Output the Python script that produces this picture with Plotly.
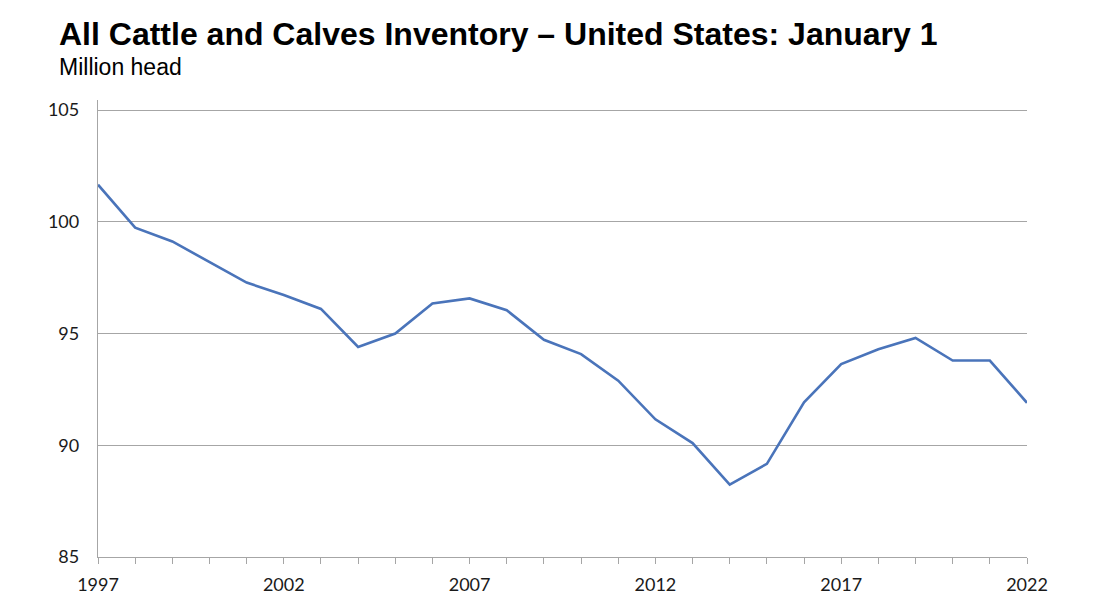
import plotly.graph_objects as go

years = list(range(1997, 2023))
inventory = [101.66, 99.74, 99.12, 98.20, 97.28, 96.72, 96.10, 94.40, 95.00, 96.34,
             96.57, 96.04, 94.72, 94.08, 92.89, 91.16, 90.10, 88.24, 89.17, 91.92,
             93.63, 94.30, 94.80, 93.79, 93.79, 91.90]
x_tick_labels = [1997, 2002, 2007, 2012, 2017, 2022]
y_ticks = [85, 90, 95, 100, 105]

# page body has an 8px offset; figure coordinates are screen minus 8
OFF = 8
W, H = 1118 - OFF, 606 - OFF
L, T = 98 - OFF, 100 - OFF
R = W - (1027 - OFF)
B = H - (557 - OFF)
PH = H - T - B
PW = W - L - R


def py(screen_y):
    return 1 + (T - (screen_y - OFF)) / PH


def px(screen_x):
    return ((screen_x - OFF) - L) / PW


fig = go.Figure()
fig.add_trace(go.Scatter(x=years, y=inventory, mode="lines",
                         line=dict(color="#4A74BA", width=2.6), hoverinfo="x+y"))

fig.update_layout(
    width=W, height=H,
    margin=dict(l=L, r=R, t=T, b=B),
    paper_bgcolor="white", plot_bgcolor="white",
    showlegend=False,
    font=dict(family="Lato, Open Sans, sans-serif", color="#1a1a1a"),
    xaxis=dict(range=[1997, 2022], tickvals=years,
               ticktext=[str(y) if y in x_tick_labels else "" for y in years],
               showgrid=False, zeroline=False, showline=True, linecolor="#A6A6A6",
               linewidth=1.3, ticks="outside", ticklen=6, tickcolor="#A6A6A6",
               tickfont=dict(size=18, color="#1a1a1a"), ticklabelstandoff=5),
    yaxis=dict(range=[85, 105.45], tickvals=y_ticks, showgrid=True, gridcolor="#A6A6A6",
               gridwidth=1, zeroline=False, showline=True, linecolor="#A6A6A6",
               linewidth=1.3, ticks="", tickfont=dict(size=18, color="#1a1a1a"),
               ticklabelstandoff=14),
    annotations=[
        dict(text="<b>All Cattle and Calves Inventory – United States: January 1</b>",
             xref="paper", yref="paper", x=px(57), y=py(34),
             xanchor="left", yanchor="middle", showarrow=False,
             font=dict(family="Liberation Sans, Arial, sans-serif", size=32, color="black")),
        dict(text="Million head",
             xref="paper", yref="paper", x=px(57), y=py(67),
             xanchor="left", yanchor="middle", showarrow=False,
             font=dict(family="Liberation Sans, Arial, sans-serif", size=23, color="black")),
    ],
)

fig.write_html("out.html")
